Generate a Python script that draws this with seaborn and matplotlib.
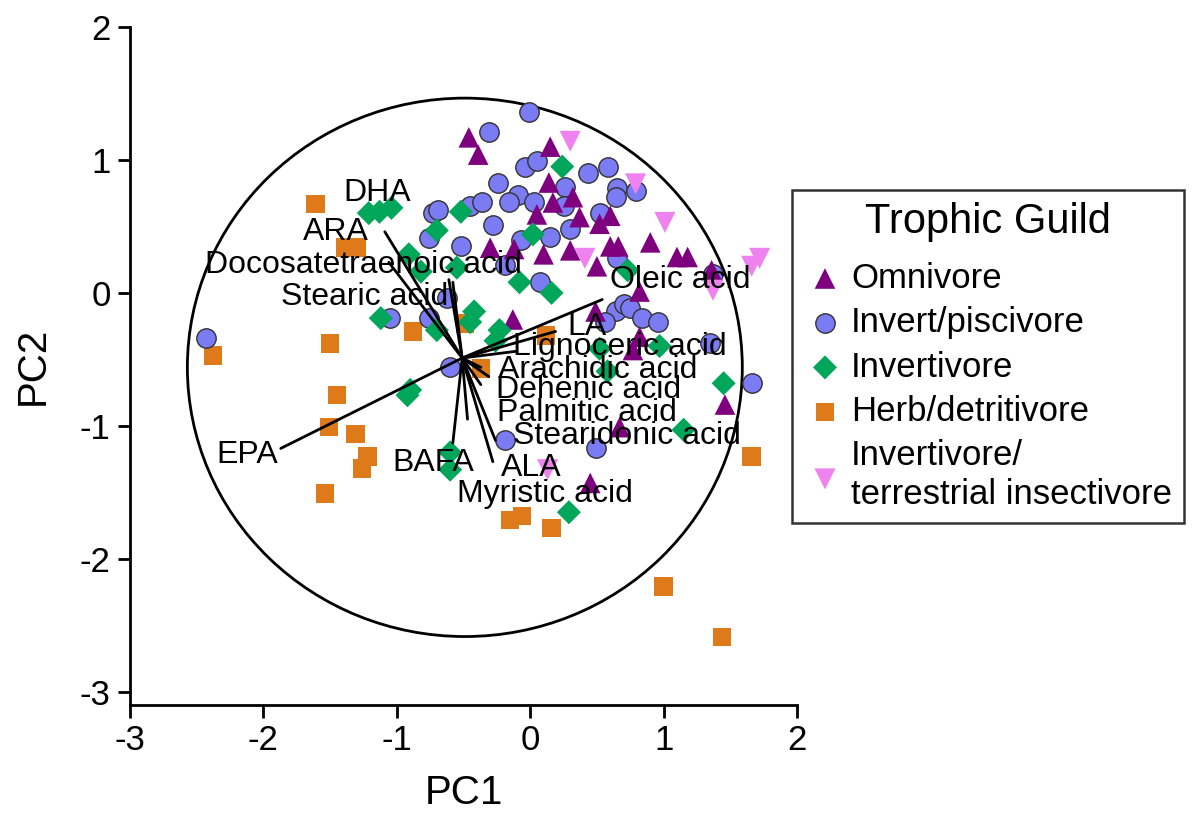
import numpy as np
import pandas as pd
import matplotlib
matplotlib.use("Agg")
import matplotlib.pyplot as plt
import seaborn as sns
from matplotlib.patches import Ellipse

# PCA scores (PC1, PC2) per trophic guild
omni_pc1 = [-0.46, -0.39, 0.15, 0.14, 0.32, 0.17, 0.05, 0.37, 0.60, 0.52, -0.30, -0.12, 0.10,
            0.30, 0.60, 0.66, 0.90, 1.10, 1.18, 0.50, 1.36, 0.82, -0.13, 0.49, 0.82, 0.77,
            1.46, 0.67, 0.45]
omni_pc2 = [1.17, 1.04, 1.10, 0.83, 0.72, 0.68, 0.59, 0.57, 0.58, 0.52, 0.34, 0.33, 0.29,
            0.32, 0.35, 0.35, 0.38, 0.27, 0.27, 0.20, 0.17, 0.01, -0.20, -0.14, -0.33, -0.43,
            -0.84, -1.01, -1.43]

pisc_pc1 = [-2.43, -0.01, -0.31, -0.04, 0.05, -0.24, -0.09, -0.16, 0.03, 0.26, 0.25, 0.43,
            0.58, 0.65, 0.64, 0.79, -0.45, -0.36, -0.28, -0.52, -0.07, 0.15, 0.30, 0.52,
            0.65, 0.07, -0.19, 1.37, -0.73, -0.69, -0.76, -0.62, -1.05, -0.76, -0.60, 0.64,
            0.70, 0.75, 0.84, 0.96, 0.56, 1.35, 1.66, -0.19, 0.49]
pisc_pc2 = [-0.34, 1.36, 1.21, 0.95, 0.99, 0.83, 0.74, 0.68, 0.68, 0.80, 0.65, 0.90,
            0.95, 0.79, 0.72, 0.77, 0.65, 0.68, 0.51, 0.35, 0.40, 0.42, 0.48, 0.60,
            0.26, 0.08, 0.21, 0.14, 0.60, 0.62, 0.41, -0.04, -0.19, -0.19, -0.56, -0.14,
            -0.08, -0.11, -0.19, -0.22, -0.22, -0.38, -0.68, -1.11, -1.17]

invert_pc1 = [-1.21, -1.13, -1.04, -0.52, -0.70, -0.91, -0.82, -0.55, 0.24, 0.02, -0.08,
              0.16, 0.73, -1.12, -0.70, -0.42, -0.45, -0.23, -0.26, -0.90, -0.92, -0.60,
              -0.60, 0.52, 0.97, 0.58, 1.45, 1.15, 0.29]
invert_pc2 = [0.60, 0.61, 0.64, 0.61, 0.47, 0.29, 0.16, 0.19, 0.95, 0.44, 0.08,
              0.00, 0.17, -0.19, -0.28, -0.14, -0.22, -0.28, -0.36, -0.73, -0.77, -1.20,
              -1.33, -0.42, -0.40, -0.59, -0.68, -1.03, -1.65]

herb_pc1 = [-1.61, -1.39, -1.30, -2.38, -1.50, -0.88, -1.45, -1.51, -1.31, -1.22, -1.26,
            -1.54, -0.49, -0.37, 0.12, -0.15, -0.06, 0.16, 1.00, 1.44, 1.66]
herb_pc2 = [0.67, 0.34, 0.34, -0.47, -0.38, -0.29, -0.77, -1.01, -1.06, -1.23, -1.32,
            -1.51, -0.23, -0.57, -0.32, -1.71, -1.68, -1.77, -2.21, -2.59, -1.23]

insect_pc1 = [0.30, 0.79, 1.01, 0.41, 1.72, 1.66, 1.37, 0.13]
insect_pc2 = [1.14, 0.82, 0.53, 0.26, 0.26, 0.20, 0.02, -1.33]

guilds = ["Omnivore", "Invert/piscivore", "Invertivore", "Herb/detritivore",
          "Invertivore/\nterrestrial insectivore"]

# fatty acid loadings (arrow tips) and the common arrow origin
origin = (-0.51, -0.49)
fa_names = ["DHA", "ARA", "Docosatetraenoic acid", "Stearic acid", "Oleic acid", "LA",
            "Lignoceric acid", "Arachidic acid", "Dehenic acid", "Palmitic acid",
            "Stearidonic acid", "ALA", "Myristic acid", "BAFA", "EPA"]
fa_pc1 = [-1.09, -1.06, -0.61, -0.58, 0.54, 0.19, -0.11, -0.31, -0.37, -0.37, -0.26, -0.28,
          -0.47, -0.58, -1.87]
fa_pc2 = [0.46, 0.23, 0.10, 0.08, -0.05, -0.29, -0.44, -0.63, -0.56, -0.69, -1.11, -1.27,
          -0.95, -1.13, -1.17]

frames = []
for g, xs, ys in zip(guilds,
                     [omni_pc1, pisc_pc1, invert_pc1, herb_pc1, insect_pc1],
                     [omni_pc2, pisc_pc2, invert_pc2, herb_pc2, insect_pc2]):
    frames.append(pd.DataFrame({"PC1": xs, "PC2": ys, "Guild": g}))
df = pd.concat(frames, ignore_index=True)

sns.set_style("ticks")
plt.rcParams["font.family"] = ["Liberation Sans", "DejaVu Sans"]
plt.rcParams["text.color"] = "black"
plt.rcParams["axes.labelcolor"] = "black"
plt.rcParams["xtick.color"] = "black"
plt.rcParams["ytick.color"] = "black"
plt.rcParams["axes.edgecolor"] = "black"

fig = plt.figure(figsize=(11.92, 8.14), dpi=100)
ax = fig.add_axes([130 / 1192, 1 - 705 / 814, 667 / 1192, 678 / 814])

# label text placement (left edge, vertical centre) for each loading
label_x = [-1.40, -1.70, -2.44, -1.87, 0.60, 0.28, -0.13, -0.24, -0.26, -0.25, -0.13, -0.22,
           -0.55, -1.03, -2.35]
label_y = [0.75, 0.46, 0.21, -0.03, 0.10, -0.26, -0.41, -0.58, -0.73, -0.90, -1.08, -1.32,
           -1.51, -1.28, -1.22]

styles = {
    "Invert/piscivore": dict(marker="o", color="#7B7BF4", s=195, edgecolor="#333333", linewidth=1.0),
    "Omnivore": dict(marker="^", color="#7F007F", s=220, edgecolor="none", linewidth=0),
    "Invertivore": dict(marker="D", color="#00A65A", s=150, edgecolor="none", linewidth=0),
    "Herb/detritivore": dict(marker="s", color="#DE7A1A", s=175, edgecolor="none", linewidth=0),
    "Invertivore/\nterrestrial insectivore": dict(marker="v", color="#EE82EE", s=230,
                                                   edgecolor="none", linewidth=0),
}
draw_order = ["Herb/detritivore", "Invert/piscivore", "Omnivore", "Invertivore",
              "Invertivore/\nterrestrial insectivore"]
for g in draw_order:
    sns.scatterplot(data=df[df["Guild"] == g], x="PC1", y="PC2", label=g, ax=ax,
                    zorder=3, **styles[g])

# correlation circle and loading vectors
ax.add_patch(Ellipse((-0.49, -0.56), 4.16, 4.05, fill=False, edgecolor="black", lw=2, zorder=2))
for name, x, y, tx, ty in zip(fa_names, fa_pc1, fa_pc2, label_x, label_y):
    ax.plot([origin[0], x], [origin[1], y], color="black", lw=2, zorder=4)
    ax.text(tx, ty, name, fontsize=23, ha="left", va="center", zorder=5)

ax.set_xlim(-3, 2)
ax.set_ylim(-3.1, 2)
ax.set_xticks([-3, -2, -1, 0, 1, 2])
ax.set_yticks([-3, -2, -1, 0, 1, 2])
ax.set_xticklabels(["-3", "-2", "-1", "0", "1", "2"])
ax.set_yticklabels(["-3", "-2", "-1", "0", "1", "2"])
ax.tick_params(labelsize=25, width=2, length=9, pad=5)
for side in ["left", "bottom"]:
    ax.spines[side].set_linewidth(2)
sns.despine(ax=ax)
ax.set_xlabel("PC1", fontsize=29, labelpad=12)
ax.set_ylabel("PC2", fontsize=29, labelpad=20)

handles, labels = ax.get_legend_handles_labels()
if ax.get_legend() is not None:
    ax.get_legend().remove()
lookup = dict(zip(labels, handles))
leg = fig.legend([lookup[g] for g in guilds], guilds, loc="upper left",
                 bbox_to_anchor=(792 / 1192, 1 - 190 / 814), title="Trophic Guild",
                 fontsize=25, title_fontsize=30, frameon=True, fancybox=False,
                 edgecolor="black", handletextpad=0.15, labelspacing=0.33,
                 borderpad=0.35, handlelength=1.2, borderaxespad=0)
leg.get_frame().set_linewidth(1.8)
leg._legend_box.sep = 14

fig.savefig("out.png", dpi=100)
